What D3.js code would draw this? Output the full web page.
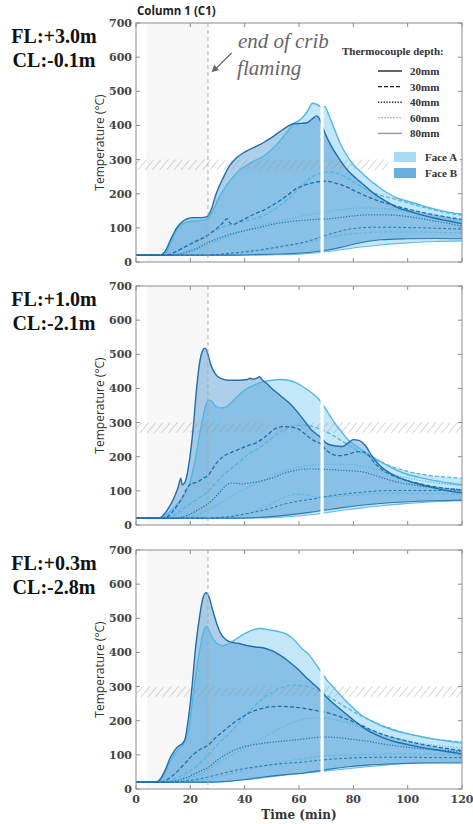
<!DOCTYPE html>
<html><head><meta charset="utf-8">
<script src="https://cdn.jsdelivr.net/npm/d3@7"></script>
<style>html,body{margin:0;padding:0;background:#fff;}svg{display:block;}</style>
</head><body>
<svg id="c" width="473" height="824"></svg>
<script>
// ---------------- DATA ----------------
const xTicks = [0, 20, 40, 60, 80, 100, 120];
const yTicks = [0, 100, 200, 300, 400, 500, 600, 700];
const depths = ["20mm", "30mm", "40mm", "60mm", "80mm"];
const faces = ["Face A", "Face B"];
const panelLabels = [["FL:+3.0m", "CL:-0.1m"], ["FL:+1.0m", "CL:-2.1m"], ["FL:+0.3m", "CL:-2.8m"]];
const cribEnd = 26.5;       // end of crib flaming (min)
const shadeStart = 4;       // start of light grey shaded period (min)
const gapTime = 68.5;       // white gap in records (min)
const band = [270, 300];    // hatched temperature band (°C)

// Panel 1 (FL +3.0m)
const p1B20 = [[0,20],[9,20],[11,35],[13,70],[15,100],[17,118],[19,127],[21,130],[24,130],[26,132],[27.5,150],[29.5,200],[32,245],[34.5,282],[37,305],[40,322],[44,338],[47,350],[50,365],[53,382],[56,398],[58,405],[61,406],[63,408],[65,420],[66.5,428],[67.5,420],[68.5,400],[70,370],[72,338],[75,300],[78,268],[81,245],[84,225],[88,198],[92,178],[96,160],[100,150],[105,138],[110,128],[115,120],[120,112]];
const p1B30 = [[0,20],[11,20],[14,28],[17,40],[20,52],[23,64],[26,75],[28,88],[30,100],[32,115],[33.5,127],[34.5,115],[36,110],[38,118],[41,130],[44,142],[47,152],[50,165],[53,180],[56,197],[59,215],[62,225],[65,232],[68,236],[70,237],[73,232],[77,222],[81,206],[85,192],[90,177],[95,166],[100,155],[105,146],[110,138],[115,131],[120,125]];
const p1B40 = [[0,20],[13,20],[17,25],[20,33],[23,42],[26,55],[30,68],[34,80],[38,88],[42,95],[46,102],[50,110],[55,117],[60,121],[65,124],[70,126],[75,130],[80,135],[85,138],[90,138],[95,137],[100,133],[105,127],[110,120],[115,113],[120,105]];
const p1B60 = [[0,20],[25,20],[30,22],[35,26],[40,30],[45,35],[50,41],[55,48],[60,55],[65,65],[70,78],[75,90],[80,98],[85,101],[90,102],[100,101],[110,99],[120,96]];
const p1B80 = [[0,20],[35,20],[45,22],[55,24],[62,27],[68,32],[75,42],[80,52],[85,60],[90,65],[100,68],[110,69],[120,68]];
const p1A20 = [[0,20],[10,20],[12,40],[14,80],[16,105],[18,115],[21,120],[24,122],[26,125],[28,145],[30,180],[32.5,215],[35,242],[38,268],[41,285],[44,298],[47,310],[50,330],[53,355],[56,385],[58,405],[61,420],[63,440],[65,465],[66.5,462],[68,455],[69.5,455],[71,430],[73,390],[75,350],[77,320],[80,285],[83,262],[86,240],[89,222],[92,205],[96,188],[100,178],[105,166],[110,155],[115,146],[120,140]];
const p1A30 = [[0,20],[12,20],[15,30],[18,45],[21,58],[24,70],[27,82],[30,95],[33,105],[36,112],[40,120],[44,128],[48,140],[52,160],[56,185],[60,215],[64,245],[68,260],[71,264],[74,260],[78,245],[82,225],[86,208],[90,195],[95,185],[100,173],[105,162],[110,152],[115,143],[120,137]];
const p1A40 = [[0,20],[14,20],[18,25],[22,35],[26,48],[30,62],[35,78],[40,92],[45,105],[50,115],[55,125],[60,133],[66,142],[72,150],[78,156],[84,158],[90,157],[96,152],[102,144],[108,136],[114,128],[120,121]];
const p1A60 = [[0,20],[28,20],[35,23],[40,27],[45,32],[50,38],[55,45],[60,52],[65,60],[70,70],[75,78],[80,83],[85,86],[90,88],[100,88],[110,87],[120,85]];
const p1A80 = [[0,20],[40,20],[50,21],[60,23],[68,28],[75,35],[82,43],[90,50],[100,56],[110,60],[120,62]];

// Panel 2 (FL +1.0m)
const p2B20 = [[0,20],[8.5,20],[10,28],[12,50],[14,80],[15.5,110],[16.5,137],[17,118],[18,125],[19.5,180],[21,280],[22.3,400],[23.5,480],[24.5,510],[25.4,518],[26.5,500],[27.5,470],[29,445],[31,430],[34,424],[38,424],[41,426],[42,430],[43,427],[44.5,430],[45.5,434],[46.5,425],[48,415],[50,400],[53,380],[56,360],[59,335],[62,305],[65,275],[67.5,260],[70,240],[73,232],[76,230],[78,240],[80,250],[82,248],[84.5,232],[87,200],[90,172],[94,150],[98,135],[104,120],[110,108],[115,100],[120,94]];
const p2B30 = [[0,20],[10.5,20],[13,35],[15,55],[17,80],[19,110],[20.5,122],[22,124],[23.5,130],[25,138],[26.5,145],[28,162],[30,185],[32,200],[35,212],[38,222],[41,232],[44,240],[46.5,252],[49,268],[51.5,283],[54,288],[57,287],[60,280],[62,268],[64,255],[66,245],[68,238],[70,220],[72,208],[75,203],[78,207],[81,214],[83,215],[85.5,205],[88,180],[91,160],[95,143],[100,130],[105,120],[110,112],[115,106],[120,102]];
const p2B40 = [[0,20],[15,20],[18,26],[21,36],[24,50],[26.5,62],[29,80],[31,98],[33,115],[35,123],[37,122],[39,120],[42,123],[45,127],[48,133],[51,140],[54,150],[57,157],[60,162],[63,164],[66,164],[69,163],[72,162],[76,160],[80,158],[84,155],[88,145],[92,135],[96,126],[100,120],[105,114],[110,110],[115,107],[120,104]];
const p2B60 = [[0,20],[27,20],[31,22],[35,25],[40,32],[45,40],[50,50],[55,62],[60,70],[65,76],[69,82],[73,87],[77,91],[82,95],[88,99],[95,101],[105,101],[120,100]];
const p2B80 = [[0,20],[35,20],[45,22],[52,26],[58,31],[64,37],[70,44],[76,51],[82,57],[90,63],[100,68],[110,71],[120,73]];
const p2A20 = [[0,20],[9.5,20],[12,35],[15,60],[18,90],[20,130],[22,200],[24,290],[25.5,345],[26.5,365],[27.5,365],[29,350],[31,343],[33,345],[35,358],[38,382],[41,400],[44,412],[47,420],[50,424],[53,426],[56,424],[59,416],[62,402],[65,385],[67.5,367],[69,350],[71,325],[73,300],[75.5,275],[78,250],[81,232],[84,215],[88,195],[92,177],[96,160],[100,148],[105,138],[110,130],[115,123],[120,118]];
const p2A30 = [[0,20],[11,20],[14,30],[17,45],[20,62],[23,78],[26,95],[29,120],[32,145],[35,165],[38,185],[41,205],[44,220],[47,235],[50,255],[53,272],[56,285],[59,292],[62,292],[65,288],[68,280],[72,265],[76,245],[80,225],[84,208],[88,192],[92,178],[96,166],[100,157],[105,149],[110,143],[115,140],[120,137]];
const p2A40 = [[0,20],[16,20],[20,25],[24,35],[28,50],[32,70],[36,88],[40,105],[44,120],[48,135],[52,150],[56,162],[60,170],[65,176],[70,178],[75,178],[80,176],[85,170],[90,158],[95,147],[100,138],[105,130],[110,124],[115,119],[120,115]];
const p2A60 = [[0,20],[28,20],[33,22],[38,28],[43,38],[48,55],[53,75],[57,88],[60,90],[64,86],[68,80],[72,82],[78,86],[85,90],[95,93],[105,92],[120,90]];
const p2A80 = [[0,20],[38,20],[48,21],[56,24],[64,30],[70,36],[76,43],[84,51],[92,58],[100,63],[110,68],[120,71]];

// Panel 3 (FL +0.3m)
const p3B20 = [[0,20],[7.5,20],[9,30],[11,60],[12.5,90],[14,110],[15.5,125],[17,133],[18,145],[19,190],[20.5,290],[22,420],[23.5,510],[24.5,555],[25.8,575],[27,560],[28,530],[29.5,490],[31,458],[33,438],[35,430],[38,426],[41,420],[44,416],[47,413],[50,405],[53,392],[56,375],[59,355],[62,332],[65,310],[67.7,290],[70,270],[73,248],[77,222],[80,202],[83,184],[86,168],[89,157],[92,147],[96,137],[100,130],[105,122],[110,115],[115,109],[120,103]];
const p3B30 = [[0,20],[9,20],[12,30],[15,50],[18,75],[21,100],[24,118],[26.5,128],[29,148],[32,168],[35,188],[38,205],[41,220],[44,230],[47,237],[50,241],[54,242],[58,240],[62,236],[66,230],[70,224],[74,215],[78,203],[82,190],[86,175],[90,162],[95,150],[100,140],[105,131],[110,124],[115,118],[120,113]];
const p3B40 = [[0,20],[11,20],[15,25],[19,35],[23,50],[26.5,63],[30,85],[34,105],[38,120],[42,128],[46,133],[50,137],[55,141],[60,145],[65,150],[70,152],[75,150],[80,145],[85,140],[90,133],[95,127],[100,122],[110,115],[120,110]];
const p3B60 = [[0,20],[14,20],[18,23],[22,28],[26,34],[30,42],[35,52],[40,60],[45,66],[50,71],[55,75],[60,78],[65,82],[70,86],[75,89],[80,91],[90,93],[100,93],[110,92],[120,92]];
const p3B80 = [[0,20],[27,20],[33,22],[40,28],[47,35],[55,42],[62,47],[67,53],[72,59],[78,65],[85,70],[95,74],[105,76],[120,76]];
const p3A20 = [[0,20],[8,20],[10,35],[12,70],[14,100],[16,120],[18,140],[19.5,180],[21,270],[22.5,360],[24,430],[25,465],[26,476],[27,462],[28.5,438],[30,425],[32,420],[34,425],[37,440],[40,455],[43,466],[46,470],[49,466],[52,462],[55,455],[57,445],[59,430],[61,412],[63.5,395],[66,368],[68,345],[70,322],[73,295],[77,260],[80,237],[83,216],[87,198],[91,183],[95,172],[100,162],[105,153],[110,146],[115,140],[120,135]];
const p3A30 = [[0,20],[10,20],[14,28],[18,45],[22,65],[26,95],[30,130],[34,160],[38,195],[42,230],[46,260],[50,283],[54,298],[58,304],[62,302],[66,292],[70,275],[74,255],[78,236],[82,218],[86,202],[90,188],[95,174],[100,162],[105,153],[110,146],[115,141],[120,138]];
const p3A40 = [[0,20],[13,20],[17,25],[21,35],[25,50],[29,70],[33,90],[37,108],[41,125],[45,142],[49,160],[53,178],[57,193],[61,203],[65,208],[69,208],[73,203],[78,193],[84,178],[90,162],[96,148],[102,138],[108,130],[114,125],[120,120]];
const p3A60 = [[0,20],[16,20],[20,22],[25,27],[30,35],[35,45],[40,55],[45,64],[50,72],[55,80],[60,87],[65,93],[70,97],[80,100],[90,102],[100,103],[110,102],[120,102]];
const p3A80 = [[0,20],[28,20],[35,23],[40,27],[45,31],[50,36],[55,41],[60,45],[65,49],[70,53],[76,58],[85,65],[95,72],[105,76],[120,79]];

const panelData = [
  { A: [p1A20, p1A30, p1A40, p1A60, p1A80], B: [p1B20, p1B30, p1B40, p1B60, p1B80] },
  { A: [p2A20, p2A30, p2A40, p2A60, p2A80], B: [p2B20, p2B30, p2B40, p2B60, p2B80] },
  { A: [p3A20, p3A30, p3A40, p3A60, p3A80], B: [p3B20, p3B30, p3B40, p3B60, p3B80] }
];

// ---------------- STYLE / LAYOUT ----------------
const svg = d3.select("#c");
const L = 136, R = 462, H = 239;
const tops = [23, 286, 550];
const col = { A: "#52b6e5", B: "#1f6eae" };
const fillCol = { A: "rgba(105,195,240,0.40)", B: "rgba(50,135,200,0.40)" };
const dashes = [null, "4,2.2", "1.2,1.6", "3,2", null];
const widths = [1.4, 1.3, 1.2, 1.0, 1.1];
const serif = "'DejaVu Serif', serif";
const tnr = "'Liberation Serif', 'Times New Roman', serif";

const x = d3.scaleLinear().domain([0, 120]).range([L, R]);

const defs = svg.append("defs");
const pat = defs.append("pattern").attr("id", "hatch").attr("patternUnits", "userSpaceOnUse")
  .attr("width", 5.5).attr("height", 5.5).attr("patternTransform", "rotate(40)");
pat.append("line").attr("x1", 0).attr("y1", 0).attr("x2", 0).attr("y2", 5.5)
  .attr("stroke", "rgba(150,150,150,0.5)").attr("stroke-width", 1.6);

function interp(pts) {
  return d3.scaleLinear().domain(pts.map(d => d[0])).range(pts.map(d => d[1])).clamp(true);
}

panelData.forEach((pd, i) => {
  const top = tops[i];
  const y = d3.scaleLinear().domain([0, 700]).range([top + H, top]);
  const g = svg.append("g");
  const cp = "clip" + i;
  defs.append("clipPath").attr("id", cp).append("rect").attr("x", L).attr("y", top).attr("width", R - L).attr("height", H);

  // shaded crib period
  g.append("rect").attr("x", x(shadeStart)).attr("y", top).attr("width", x(cribEnd) - x(shadeStart)).attr("height", H)
    .attr("fill", "#f7f7f7");

  const line = d3.line().x(d => x(d[0])).y(d => y(d[1])).curve(d3.curveMonotoneX);

  // envelopes
  const envs = {};
  ["A", "B"].forEach(f => {
    const fs = pd[f].map(interp);
    const tset = new Set();
    pd[f].forEach(c => c.forEach(p => tset.add(p[0])));
    d3.range(0, 120.01, 0.5).forEach(t => tset.add(t));
    const ts = Array.from(tset).sort((a, b) => a - b);
    const env = ts.map(t => { const v = fs.map(s => s(t)); return [t, d3.min(v), d3.max(v)]; });
    envs[f] = env;
    const area = d3.area().x(d => x(d[0])).y0(d => y(d[1])).y1(d => y(d[2])).curve(d3.curveMonotoneX);
    g.append("path").attr("d", area(env)).attr("fill", fillCol[f]).attr("clip-path", `url(#${cp})`);
  });

  // hatched band
  g.append("rect").attr("x", L).attr("y", y(band[1])).attr("width", R - L).attr("height", y(band[0]) - y(band[1]))
    .attr("fill", "url(#hatch)");

  // lines
  ["A", "B"].forEach(f => {
    pd[f].forEach((c, k) => {
      g.append("path").attr("d", line(c)).attr("fill", "none").attr("stroke", col[f])
        .attr("stroke-width", widths[k]).attr("stroke-dasharray", dashes[k])
        .attr("opacity", k >= 3 ? 0.9 : 1).attr("clip-path", `url(#${cp})`);
    });
  });

  // white data gap
  const lo = d3.min(["A", "B"].map(f => interp(envs[f].map(d => [d[0], d[1]]))(gapTime)));
  const hi = d3.max(["A", "B"].map(f => interp(envs[f].map(d => [d[0], d[2]]))(gapTime)));
  g.append("line").attr("x1", x(gapTime)).attr("x2", x(gapTime)).attr("y1", y(lo) + 3).attr("y2", y(hi) - 4)
    .attr("stroke", "#fff").attr("stroke-width", 3.2);

  // end-of-crib dashed line
  g.append("line").attr("x1", x(cribEnd)).attr("x2", x(cribEnd)).attr("y1", top).attr("y2", top + H)
    .attr("stroke", "#a8a8a8").attr("stroke-width", 0.9).attr("stroke-dasharray", "4,3");

  // frame + ticks
  g.append("rect").attr("x", L).attr("y", top).attr("width", R - L).attr("height", H)
    .attr("fill", "none").attr("stroke", "#8c8c8c").attr("stroke-width", 1);
  const tk = 4;
  xTicks.forEach(t => {
    g.append("line").attr("x1", x(t)).attr("x2", x(t)).attr("y1", top + H).attr("y2", top + H - tk).attr("stroke", "#8c8c8c");
    g.append("line").attr("x1", x(t)).attr("x2", x(t)).attr("y1", top).attr("y2", top + tk).attr("stroke", "#8c8c8c");
  });
  yTicks.forEach(v => {
    g.append("line").attr("x1", L).attr("x2", L + tk).attr("y1", y(v)).attr("y2", y(v)).attr("stroke", "#8c8c8c");
    g.append("line").attr("x1", R).attr("x2", R - tk).attr("y1", y(v)).attr("y2", y(v)).attr("stroke", "#8c8c8c");
    g.append("text").attr("x", L - 4).attr("y", y(v) + 4).attr("text-anchor", "end")
      .attr("font-family", serif).attr("font-weight", "bold").attr("font-size", 11).attr("fill", "#444").text(v);
  });
  if (i === 2) {
    xTicks.forEach(t => {
      g.append("text").attr("x", x(t)).attr("y", top + H + 14).attr("text-anchor", "middle")
        .attr("font-family", serif).attr("font-weight", "bold").attr("font-size", 11).attr("fill", "#444").text(t);
    });
    g.append("text").attr("x", (L + R) / 2).attr("y", top + H + 30).attr("text-anchor", "middle")
      .attr("font-family", serif).attr("font-weight", "bold").attr("font-size", 12).attr("fill", "#333").text("Time (min)");
  }
  // y label
  g.append("text").attr("transform", `translate(104,${top + H / 2}) rotate(-90)`).attr("text-anchor", "middle")
    .attr("font-family", "'Open Sans', sans-serif").attr("font-size", 12).attr("fill", "#333").text("Temperature (°C)");

  // panel labels
  g.append("text").attr("x", 54).attr("y", top + 20).attr("text-anchor", "middle").attr("font-family", tnr)
    .attr("font-weight", "bold").attr("font-size", 20).attr("fill", "#111").text(panelLabels[i][0]);
  g.append("text").attr("x", 54).attr("y", top + 44).attr("text-anchor", "middle").attr("font-family", tnr)
    .attr("font-weight", "bold").attr("font-size", 20).attr("fill", "#111").text(panelLabels[i][1]);

  if (i === 0) {
    // title
    svg.append("text").attr("x", L + 1).attr("y", 15).attr("font-family", "'Open Sans', sans-serif")
      .attr("font-weight", "bold").attr("font-size", 11.5).attr("fill", "#222").text("Column 1 (C1)");
    // annotation
    g.append("text").attr("x", x(37.5)).attr("y", y(627)).attr("font-family", tnr).attr("font-style", "italic")
      .attr("font-size", 21).attr("fill", "#666").text("end of crib");
    g.append("text").attr("x", x(37.2)).attr("y", y(548)).attr("font-family", tnr).attr("font-style", "italic")
      .attr("font-size", 21).attr("fill", "#666").text("flaming");
    const ax1 = x(35.2), ay1 = y(612), ax2 = x(27.8), ay2 = y(556);
    g.append("line").attr("x1", ax1).attr("y1", ay1).attr("x2", ax2 + 4).attr("y2", ay2 - 3.3).attr("stroke", "#666").attr("stroke-width", 1.3);
    const ang = Math.atan2(ay2 - ay1, ax2 - ax1);
    const hl = 7, hw = 3.5;
    const bx = ax2 - hl * Math.cos(ang), by = ay2 - hl * Math.sin(ang);
    g.append("path").attr("d", `M${ax2},${ay2}L${bx - hw * Math.sin(ang)},${by + hw * Math.cos(ang)}L${bx + hw * Math.sin(ang)},${by - hw * Math.cos(ang)}Z`)
      .attr("fill", "#666");

    // legend
    const lg = g.append("g");
    lg.append("rect").attr("x", 388).attr("y", 146).attr("width", 72).attr("height", 36).attr("fill", "#fff");
    lg.append("text").attr("x", 342).attr("y", 55).attr("font-family", tnr).attr("font-weight", "bold")
      .attr("font-size", 11).attr("fill", "#333").text("Thermocouple depth:");
    const lcols = ["#222", "#222", "#222", "#aaa", "#999"];
    const ldash = [null, "4,2", "1.3,1.5", "2,1", null];
    depths.forEach((d, k) => {
      const yy = 71 + k * 15.6;
      lg.append("line").attr("x1", 378).attr("x2", 402).attr("y1", yy).attr("y2", yy)
        .attr("stroke", lcols[k]).attr("stroke-width", k === 3 ? 1 : 1.4).attr("stroke-dasharray", ldash[k]);
      lg.append("text").attr("x", 410).attr("y", yy + 4).attr("font-family", tnr).attr("font-weight", "bold")
        .attr("font-size", 11).attr("fill", "#333").text(d);
    });
    const swc = ["#a9dcf3", "#6aaedc"];
    faces.forEach((f, k) => {
      const yy = 152 + k * 16;
      lg.append("rect").attr("x", 394).attr("y", yy).attr("width", 22).attr("height", 10).attr("fill", swc[k]);
      lg.append("text").attr("x", 425).attr("y", yy + 9).attr("font-family", tnr).attr("font-weight", "bold")
        .attr("font-size", 11).attr("fill", "#333").text(f);
    });
  }
});
</script>
</body></html>
